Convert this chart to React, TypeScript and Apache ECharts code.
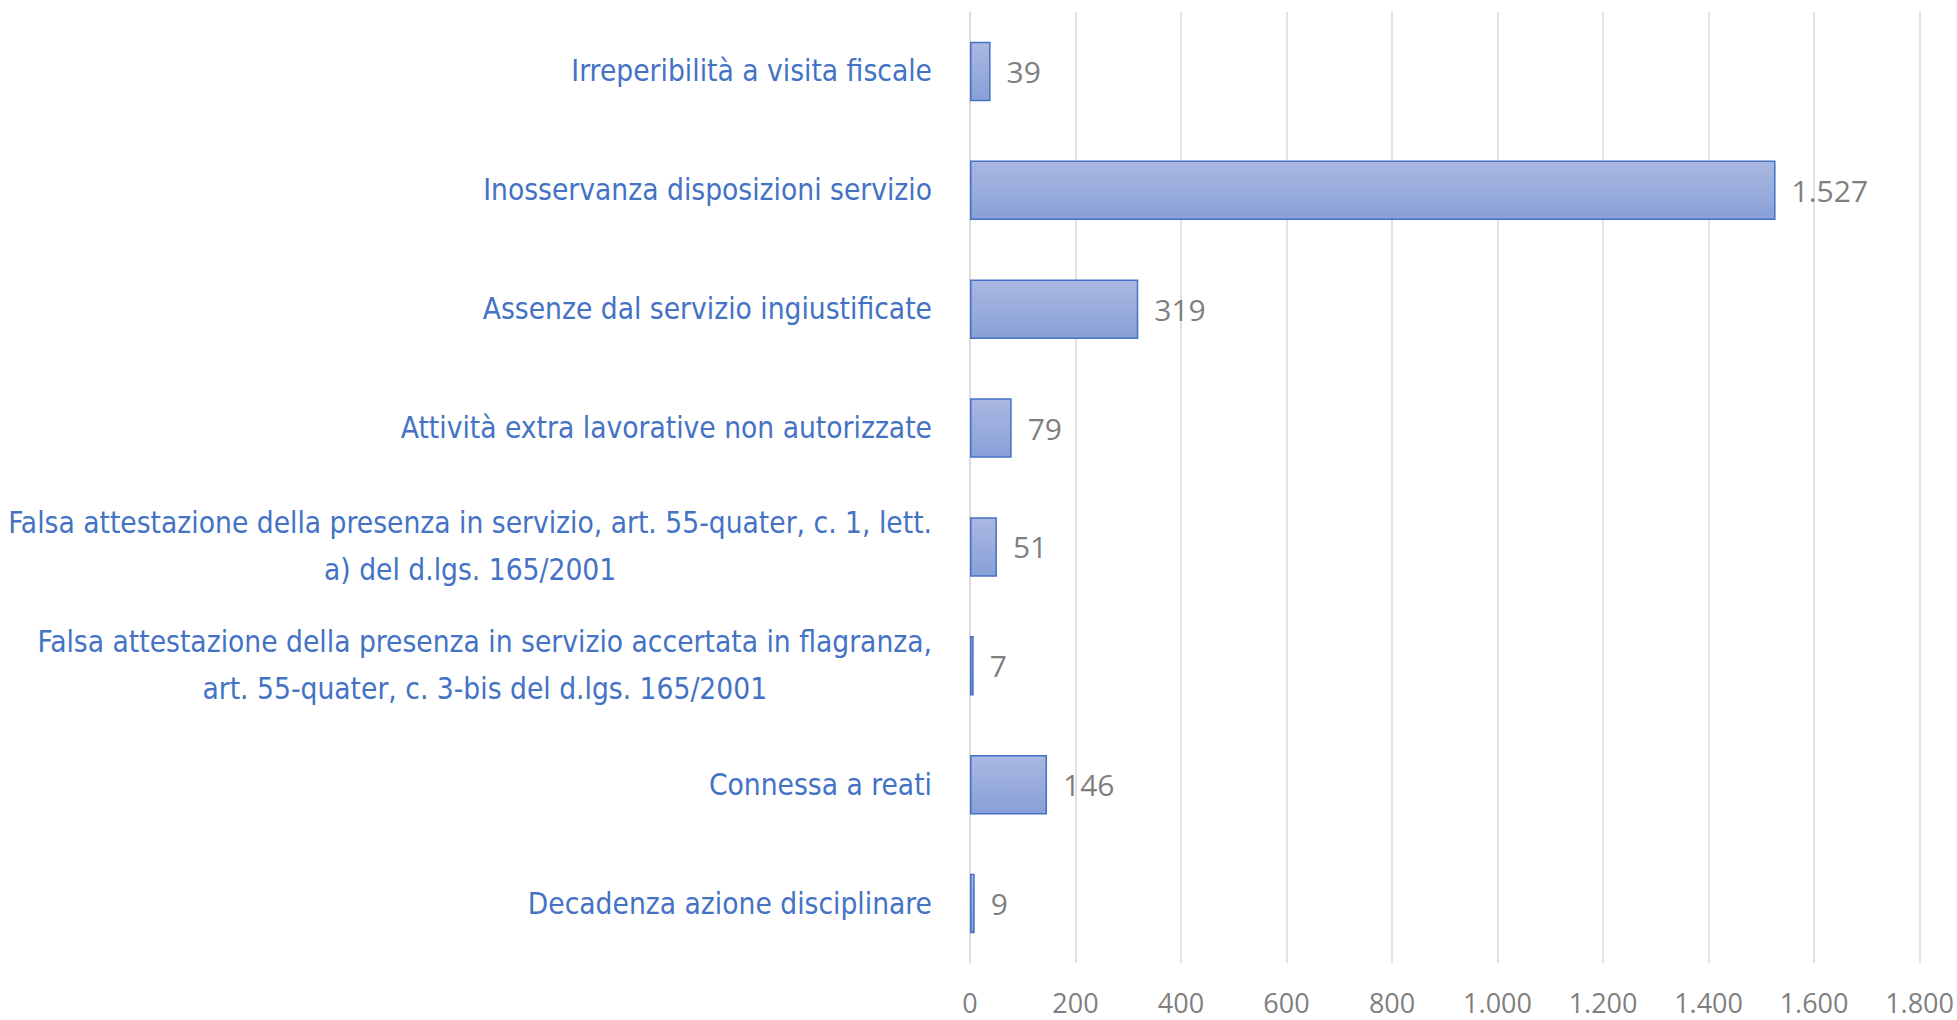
import React, { useEffect, useRef } from "react";
import * as echarts from "echarts";

const categories: string[] = [
  "Irreperibilità a visita fiscale",
  "Inosservanza disposizioni servizio",
  "Assenze dal servizio ingiustificate",
  "Attività extra lavorative non autorizzate",
  "Falsa attestazione della presenza in servizio, art. 55-quater, c. 1, lett.\na) del d.lgs. 165/2001",
  "Falsa attestazione della presenza in servizio accertata in flagranza,\nart. 55-quater, c. 3-bis del d.lgs. 165/2001",
  "Connessa a reati",
  "Decadenza azione disciplinare",
];
const values: number[] = [39, 1527, 319, 79, 51, 7, 146, 9];

const axisMin = 0;
const axisMax = 1800;
const axisStep = 200;

const fmt = (v: number) => String(v).replace(/\B(?=(\d{3})+(?!\d))/g, ".");

const LABEL_FONT = "'DejaVu Sans Condensed', 'Liberation Sans Narrow', sans-serif";
const NUM_FONT = "'Open Sans', sans-serif";

export default function App() {
  const ref = useRef<HTMLDivElement>(null);
  useEffect(() => {
    document.body.style.margin = "0";
    const chart = echarts.init(ref.current!, null, { renderer: "svg" });
    chart.setOption({
      animation: false,
      backgroundColor: "#ffffff",
      grid: { left: 970, right: 37, top: 12, bottom: 57, containLabel: false },
      xAxis: {
        type: "value",
        min: axisMin,
        max: axisMax,
        interval: axisStep,
        axisLine: { show: false },
        axisTick: { show: false },
        splitLine: { lineStyle: { color: "#d9d9d9", width: 1.5 } },
        axisLabel: {
          margin: 26,
          color: "#7f7f7f",
          fontSize: 27,
          fontFamily: NUM_FONT,
          formatter: (v: number) => fmt(v),
        },
      },
      yAxis: {
        type: "category",
        inverse: true,
        data: categories,
        axisLine: { lineStyle: { color: "#d9d9d9", width: 1.5 } },
        axisTick: { length: 12, lineStyle: { color: "#d9d9d9", width: 1.5 } },
        axisLabel: {
          margin: 38,
          color: "#4472C4",
          fontSize: 29.6,
          fontFamily: LABEL_FONT,
          lineHeight: 47,
          formatter: (v: string) =>
            v
              .split("\n")
              .map((s) => `{c|${s}}`)
              .join("\n"),
          rich: {
            c: {
              align: "center",
              color: "#4472C4",
              fontSize: 29.6,
              fontFamily: LABEL_FONT,
              lineHeight: 47,
            },
          },
        },
      },
      series: [
        {
          type: "bar",
          data: values,
          barCategoryGap: "50%",
          itemStyle: {
            color: new echarts.graphic.LinearGradient(0, 0, 0, 1, [
              { offset: 0, color: "#AAB8E1" },
              { offset: 1, color: "#88A0D8" },
            ]),
            borderColor: "#4472C4",
            borderWidth: 1.5,
          },
          label: {
            show: true,
            position: "right",
            distance: 16,
            color: "#7f7f7f",
            fontSize: 30,
            fontFamily: NUM_FONT,
            formatter: (p: any) => fmt(p.value),
          },
        },
      ],
    });
    return () => chart.dispose();
  }, []);
  return <div ref={ref} style={{ width: 1957, height: 1020 }} />;
}
